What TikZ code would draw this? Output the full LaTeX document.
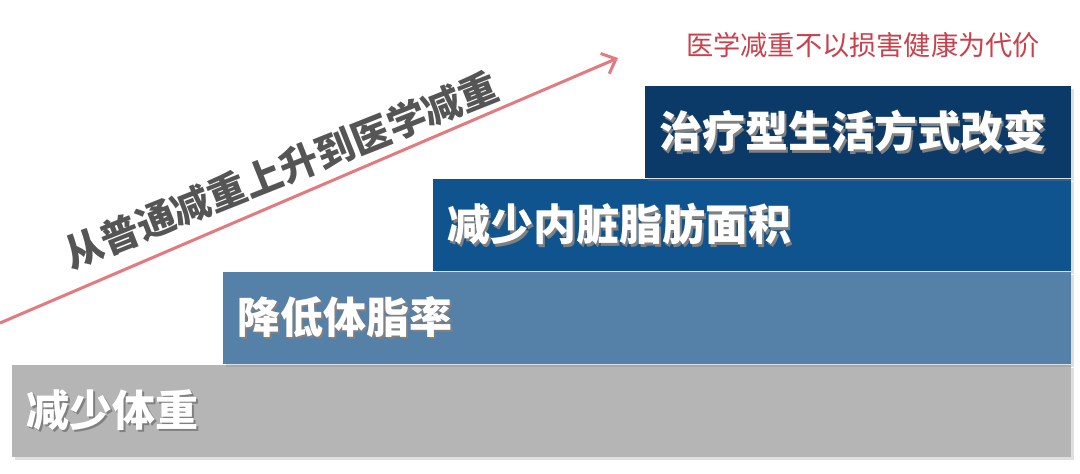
\documentclass[tikz,border=0pt]{standalone}
\usepackage{fontspec}
\usepackage{xcolor}
\usetikzlibrary{arrows.meta, shadows}
\newfontfamily\cjk{Noto Sans CJK SC}

\definecolor{stepgray}{HTML}{B5B5B5}
\definecolor{stepsteel}{HTML}{5580A8}
\definecolor{stepblue}{HTML}{10548F}
\definecolor{stepnavy}{HTML}{0C3A68}
\definecolor{risered}{HTML}{E27A80}
\definecolor{mottored}{HTML}{C8414C}
\definecolor{slogangray}{HTML}{555555}

\newcommand{\shadowed}[1]{\makebox[0pt][l]{\kern1.2pt\raisebox{-1.2pt}{\color{black!50}#1}}#1}

\tikzset{
  stair/.style={anchor=north west, minimum height=46pt, inner ysep=0pt, inner xsep=7pt,
    align=left, text=white, font=\cjk\bfseries\fontsize{21.5}{24}\selectfont,
    drop shadow={shadow xshift=1.2pt, shadow yshift=-1.2pt, opacity=0.25}},
  risearrow/.style={draw=risered, line width=1.5pt, -{Straight Barb[length=6pt, width=11pt, line width=1.5pt]}}
}

\begin{document}
\begin{tikzpicture}[x=0.5pt, y=-0.5pt]
\useasboundingbox[fill=white] (0, 0) rectangle (1080, 473);
%Steps
\node (weight) [stair, fill=stepgray, text width=515.5pt] at (12, 365) {\shadowed{减少体重}};
\node (fat) [stair, fill=stepsteel, text width=410pt] at (223, 272) {\shadowed{降低体脂率}};
\node (visceral) [stair, fill=stepblue, text width=305pt] at (433, 179) {\shadowed{减少内脏脂肪面积}};
\node (lifestyle) [stair, fill=stepnavy, text width=199pt] at (645, 86) {\shadowed{治疗型生活方式改变}};
%Arrow
\coordinate (rise start) at (0, 323);
\coordinate (rise end) at (618, 58);
\draw [risearrow] (rise start) -- (rise end);
%Text
\node (slogan) [rotate=21.7, inner sep=0pt, text=slogangray,
  font=\cjk\bfseries\fontsize{19.3}{22}\selectfont] at (281, 170) {从普通减重上升到医学减重};
\node (motto) [text=mottored, font=\cjk\fontsize{13.6}{16}\selectfont] at (863, 45) {医学减重不以损害健康为代价};
\end{tikzpicture}
\end{document}
